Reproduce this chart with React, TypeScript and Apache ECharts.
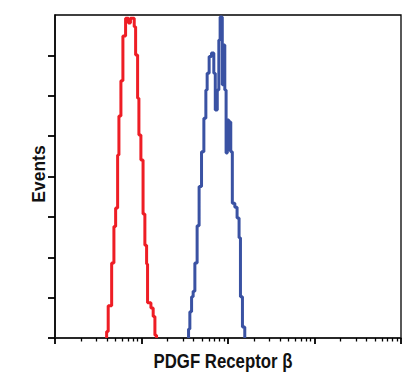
import React, { useEffect, useRef } from "react";
import * as echarts from "echarts";

// Histogram bins on a log10 intensity axis (values in decades), counts in events
const redEdges = [0.597, 0.615, 0.655, 0.681, 0.701, 0.724, 0.739, 0.762, 0.785, 0.816, 0.849, 0.872, 0.916, 0.932, 0.955, 0.970, 0.993, 1.018, 1.039, 1.059, 1.070, 1.109, 1.135, 1.155, 1.174];
const redCounts = [16, 80, 186, 276, 322, 453, 550, 637, 748, 792, 780, 792, 771, 701, 594, 503, 441, 307, 230, 183, 87, 74, 53, 7];

const blueEdges = [1.544, 1.559, 1.579, 1.597, 1.617, 1.643, 1.666, 1.694, 1.721, 1.744, 1.759, 1.782, 1.809, 1.836, 1.853, 1.876, 1.894, 1.909, 1.934, 1.949, 1.963, 1.978, 1.992, 2.009, 2.021, 2.032, 2.050, 2.079, 2.105, 2.128, 2.144, 2.167, 2.194];
const blueCounts = [22, 65, 102, 116, 186, 278, 375, 461, 544, 614, 656, 697, 706, 656, 565, 614, 738, 795, 627, 726, 614, 458, 540, 466, 535, 461, 334, 324, 297, 248, 102, 27];

const majorTicks = [0, 1, 2, 3, 4];
const minorMultipliers = [2, 3, 4, 5, 6, 7, 8, 9];
const yTicks = [0, 100, 200, 300, 400, 500, 600, 700];

const xTitle = "PDGF Receptor β";
const yTitle = "Events";

function outline(edges: number[], counts: number[]): number[][] {
  const pts: number[][] = [[edges[0], 0]];
  for (let i = 0; i < counts.length; i++) {
    pts.push([edges[i], counts[i]]);
    pts.push([edges[i + 1], counts[i]]);
  }
  pts.push([edges[edges.length - 1], 0]);
  return pts;
}

export default function App() {
  const ref = useRef<HTMLDivElement>(null);
  useEffect(() => {
    document.body.style.margin = "0";
    if (!ref.current) return;
    const chart = echarts.init(ref.current, undefined, { renderer: "svg" });
    const minorTicks: number[] = [];
    for (let d = 0; d < 4; d++) {
      for (const m of minorMultipliers) minorTicks.push(d + Math.log10(m));
    }
    const font = "'Liberation Sans', Arial, sans-serif";
    chart.setOption({
      animation: false,
      backgroundColor: "#ffffff",
      grid: {
        left: 55,
        top: 15,
        width: 346,
        height: 323,
        show: true,
        borderColor: "#000",
        borderWidth: 1.3,
        backgroundColor: "transparent",
      },
      xAxis: [
        {
          type: "value",
          min: 0,
          max: 4,
          position: "bottom",
          axisLine: { show: true, onZero: false, lineStyle: { color: "#222", width: 1.5 } },
          axisTick: { show: true, inside: false, length: 6, customValues: majorTicks, lineStyle: { color: "#000", width: 1.8 } },
          axisLabel: { show: false },
          splitLine: { show: false },
        },
        {
          type: "value",
          min: 0,
          max: 4,
          position: "bottom",
          axisLine: { show: false },
          axisTick: { show: true, inside: false, length: 3.5, customValues: minorTicks, lineStyle: { color: "#000", width: 1.3 } },
          axisLabel: { show: false },
          splitLine: { show: false },
        },
      ],
      yAxis: {
        type: "value",
        min: 0,
        max: 800,
        interval: 100,
        axisLine: { show: true, onZero: false, lineStyle: { color: "#000", width: 1.5 } },
        axisTick: { show: true, inside: false, length: 7, customValues: yTicks, lineStyle: { color: "#000", width: 1.8 } },
        axisLabel: { show: false },
        splitLine: { show: false },
      },
      graphic: [
        {
          type: "text",
          x: 223,
          y: 370.5,
          scaleX: 0.84,
          style: {
            text: xTitle,
            fontFamily: font,
            fontWeight: "bold",
            fontSize: 20,
            fill: "#111",
            textAlign: "center",
            textVerticalAlign: "bottom",
          },
        },
        {
          type: "text",
          x: 38.5,
          y: 174,
          rotation: Math.PI / 2,
          scaleX: 0.92,
          style: {
            text: yTitle,
            fontFamily: font,
            fontWeight: "bold",
            fontSize: 19,
            fill: "#111",
            textAlign: "center",
            textVerticalAlign: "middle",
          },
        },
      ],
      series: [
        {
          type: "line",
          data: outline(redEdges, redCounts),
          symbol: "none",
          clip: false,
          lineStyle: { color: "#ee1d25", width: 3 },
        },
        {
          type: "line",
          data: outline(blueEdges, blueCounts),
          symbol: "none",
          clip: false,
          lineStyle: { color: "#3a52a3", width: 3 },
        },
      ],
    });
    return () => chart.dispose();
  }, []);
  return <div ref={ref} style={{ width: 409, height: 381 }} />;
}
